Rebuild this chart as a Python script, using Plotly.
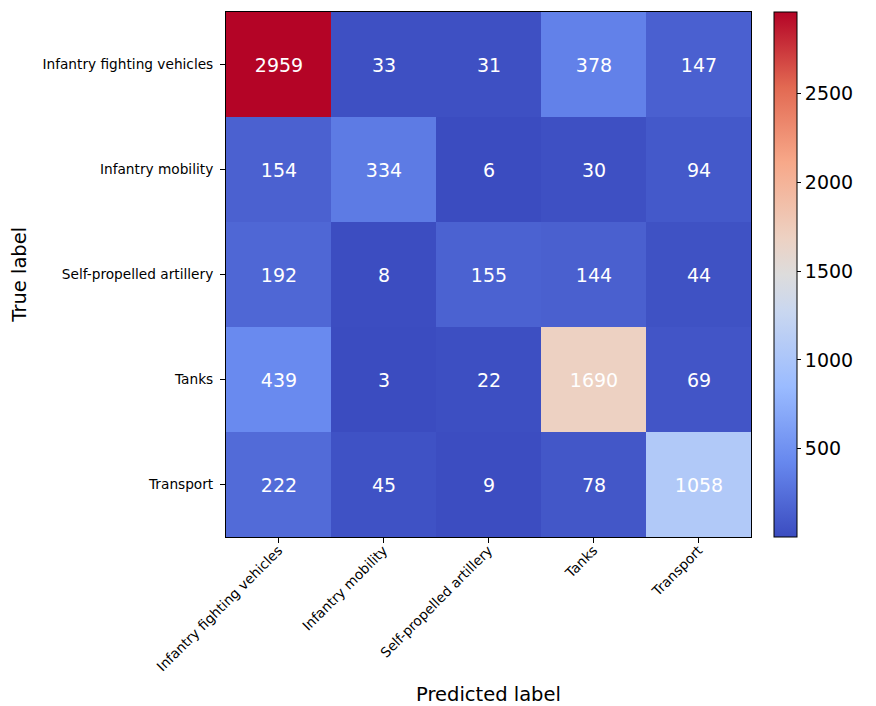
import plotly.graph_objects as go

# Confusion matrix of a vehicle-type classifier
classes = [
    "Infantry fighting vehicles",
    "Infantry mobility",
    "Self-propelled artillery",
    "Tanks",
    "Transport",
]
row_ifv = [2959, 33, 31, 378, 147]
row_mobility = [154, 334, 6, 30, 94]
row_artillery = [192, 8, 155, 144, 44]
row_tanks = [439, 3, 22, 1690, 69]
row_transport = [222, 45, 9, 78, 1058]
counts = [row_ifv, row_mobility, row_artillery, row_tanks, row_transport]

colorbar_ticks = [500, 1000, 1500, 2000, 2500]

# matplotlib "coolwarm" approximated with evenly spaced stops
coolwarm = [
    [0.0, "#3b4cc0"],
    [1 / 7, "#6788ee"],
    [2 / 7, "#9abbff"],
    [3 / 7, "#c9d7f0"],
    [0.5, "#dddcdc"],
    [4 / 7, "#edd1c2"],
    [5 / 7, "#f7a889"],
    [6 / 7, "#e26952"],
    [1.0, "#b40426"],
]

FONT = "DejaVu Sans"
TITLE_FONT = dict(family=FONT, size=19.5, color="black")

fig = go.Figure(
    go.Heatmap(
        z=counts,
        x=classes,
        y=classes,
        colorscale=coolwarm,
        texttemplate="%{z}",
        textfont=dict(family=FONT, size=19, color="white"),
        xgap=0,
        ygap=0,
        colorbar=dict(
            x=1.024,
            xanchor="left",
            y=0.5,
            yanchor="middle",
            len=1.0,
            lenmode="fraction",
            ypad=0,
            thickness=23,
            outlinewidth=1,
            outlinecolor="black",
            tickvals=colorbar_ticks,
            ticks="outside",
            ticklen=4,
            tickcolor="black",
            tickfont=dict(family=FONT, size=19, color="black"),
        ),
    )
)

fig.update_layout(
    width=876,
    height=706,
    margin=dict(l=226, r=109, t=12, b=169),
    paper_bgcolor="white",
    plot_bgcolor="white",
    font=dict(family=FONT, color="black"),
    annotations=[
        dict(
            text="Predicted label",
            xref="paper", yref="paper",
            x=0.5, y=-0.30,
            xanchor="center", yanchor="middle",
            showarrow=False,
            font=TITLE_FONT,
        ),
        dict(
            text="True label",
            xref="paper", yref="paper",
            x=-0.394, y=0.5,
            xanchor="center", yanchor="middle",
            textangle=-90,
            showarrow=False,
            font=TITLE_FONT,
        ),
    ],
)

fig.update_xaxes(
    automargin=False,
    tickangle=-45,
    tickfont=dict(family=FONT, size=13.7, color="black"),
    ticks="outside",
    ticklen=5,
    tickcolor="black",
    ticklabelstandoff=-6,
    showline=True,
    linecolor="black",
    linewidth=1,
    mirror=True,
    showgrid=False,
    zeroline=False,
)
fig.update_yaxes(
    automargin=False,
    autorange="reversed",
    tickfont=dict(family=FONT, size=13.7, color="black"),
    ticks="outside",
    ticklen=5,
    tickcolor="black",
    ticklabelstandoff=4,
    showline=True,
    linecolor="black",
    linewidth=1,
    mirror=True,
    showgrid=False,
    zeroline=False,
)

fig.write_html("out.html")
